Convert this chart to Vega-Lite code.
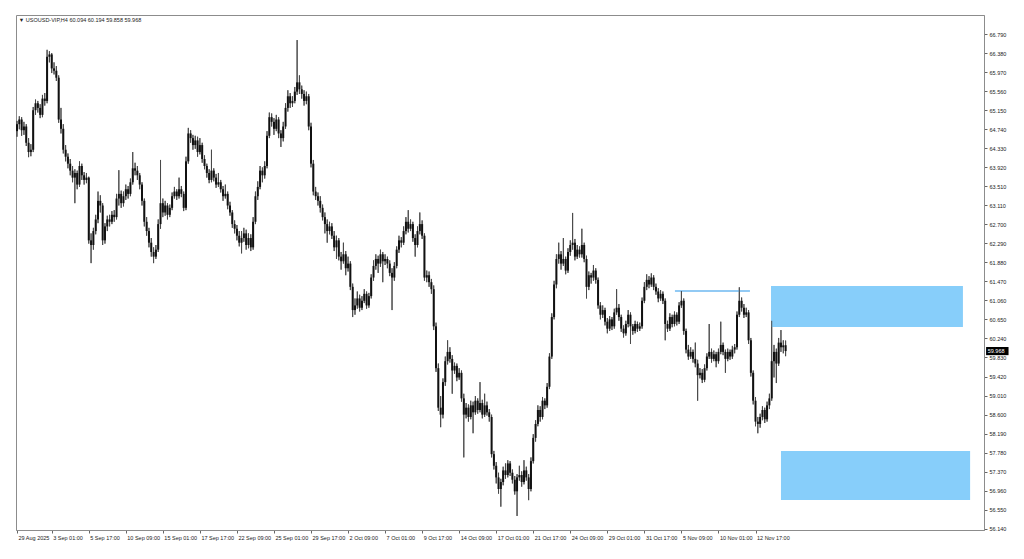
{
"$schema": "https://vega.github.io/schema/vega-lite/v6.json",
"width": 968, "height": 515,
"autosize": {"type": "none"},
"padding": {"left": 16, "top": 15, "right": 40, "bottom": 29},
"background": "white",
"config": {"view": {"stroke": "#8c8c8c", "strokeWidth": 1}, "font": "Liberation Sans"},
"datasets": {
"zones": [
{"a": 325.7, "b": 408.6, "top": 61.368, "bot": 60.486},
{"a": 330.0, "b": 411.7, "top": 57.818, "bot": 56.764}
],
"lines": [{"a": 284.2, "b": 316.6, "p": 61.26}],
"one": [{"k": 1}],
"bars": [
{"i":0,"o":64.70,"h":64.92,"l":64.58,"c":64.85},
{"i":1,"o":64.85,"h":65.02,"l":64.74,"c":64.95},
{"i":2,"o":64.95,"h":65.00,"l":64.60,"c":64.72},
{"i":3,"o":64.72,"h":64.90,"l":64.62,"c":64.80},
{"i":4,"o":64.80,"h":64.85,"l":64.38,"c":64.45},
{"i":5,"o":64.45,"h":64.55,"l":64.14,"c":64.25},
{"i":6,"o":64.25,"h":64.42,"l":64.16,"c":64.30},
{"i":7,"o":64.30,"h":65.22,"l":64.25,"c":65.15},
{"i":8,"o":65.15,"h":65.38,"l":65.05,"c":65.30},
{"i":9,"o":65.30,"h":65.35,"l":65.10,"c":65.20},
{"i":10,"o":65.20,"h":65.28,"l":64.98,"c":65.05},
{"i":11,"o":65.05,"h":65.48,"l":65.00,"c":65.40},
{"i":12,"o":65.40,"h":65.52,"l":65.25,"c":65.35},
{"i":13,"o":65.35,"h":66.45,"l":65.30,"c":66.30},
{"i":14,"o":66.30,"h":66.42,"l":66.18,"c":66.35},
{"i":15,"o":66.35,"h":66.38,"l":65.95,"c":66.05},
{"i":16,"o":66.05,"h":66.18,"l":65.92,"c":66.00},
{"i":17,"o":66.00,"h":66.10,"l":65.78,"c":65.85},
{"i":18,"o":65.85,"h":65.90,"l":64.88,"c":64.95},
{"i":19,"o":64.95,"h":65.20,"l":64.65,"c":64.75},
{"i":20,"o":64.75,"h":64.85,"l":64.22,"c":64.30},
{"i":21,"o":64.30,"h":64.40,"l":64.05,"c":64.15},
{"i":22,"o":64.15,"h":64.22,"l":63.90,"c":64.00},
{"i":23,"o":64.00,"h":64.10,"l":63.75,"c":63.85},
{"i":24,"o":63.85,"h":63.95,"l":63.60,"c":63.70},
{"i":25,"o":63.70,"h":63.88,"l":63.15,"c":63.80},
{"i":26,"o":63.80,"h":63.85,"l":63.45,"c":63.55},
{"i":27,"o":63.55,"h":64.05,"l":63.50,"c":63.95},
{"i":28,"o":63.95,"h":64.00,"l":63.65,"c":63.75},
{"i":29,"o":63.75,"h":63.82,"l":63.55,"c":63.65},
{"i":30,"o":63.65,"h":63.80,"l":63.58,"c":63.70},
{"i":31,"o":63.70,"h":63.72,"l":62.28,"c":62.35},
{"i":32,"o":62.35,"h":62.50,"l":61.86,"c":62.25},
{"i":33,"o":62.25,"h":62.62,"l":62.15,"c":62.55},
{"i":34,"o":62.55,"h":62.90,"l":62.48,"c":62.80},
{"i":35,"o":62.80,"h":63.40,"l":62.72,"c":63.20},
{"i":36,"o":63.20,"h":63.32,"l":62.95,"c":63.10},
{"i":37,"o":63.10,"h":63.15,"l":62.25,"c":62.35},
{"i":38,"o":62.35,"h":62.72,"l":62.28,"c":62.65},
{"i":39,"o":62.65,"h":62.88,"l":62.55,"c":62.80},
{"i":40,"o":62.80,"h":62.90,"l":62.65,"c":62.75},
{"i":41,"o":62.75,"h":62.98,"l":62.70,"c":62.90},
{"i":42,"o":62.90,"h":63.00,"l":62.75,"c":62.85},
{"i":43,"o":62.85,"h":63.35,"l":62.80,"c":63.25},
{"i":44,"o":63.25,"h":63.86,"l":63.10,"c":63.35},
{"i":45,"o":63.35,"h":63.42,"l":63.05,"c":63.15},
{"i":46,"o":63.15,"h":63.40,"l":63.08,"c":63.30},
{"i":47,"o":63.30,"h":63.55,"l":63.22,"c":63.45},
{"i":48,"o":63.45,"h":63.52,"l":63.25,"c":63.35},
{"i":49,"o":63.35,"h":63.68,"l":63.30,"c":63.60},
{"i":50,"o":63.60,"h":64.25,"l":63.55,"c":63.90},
{"i":51,"o":63.90,"h":64.02,"l":63.75,"c":63.85},
{"i":52,"o":63.85,"h":63.95,"l":63.65,"c":63.75},
{"i":53,"o":63.75,"h":63.80,"l":63.45,"c":63.55},
{"i":54,"o":63.55,"h":63.60,"l":63.10,"c":63.20},
{"i":55,"o":63.20,"h":63.25,"l":62.65,"c":62.75},
{"i":56,"o":62.75,"h":62.85,"l":62.45,"c":62.55},
{"i":57,"o":62.55,"h":62.62,"l":62.20,"c":62.30},
{"i":58,"o":62.30,"h":62.40,"l":62.00,"c":62.10},
{"i":59,"o":62.10,"h":62.20,"l":61.86,"c":62.00},
{"i":60,"o":62.00,"h":62.25,"l":61.95,"c":62.15},
{"i":61,"o":62.15,"h":62.80,"l":62.10,"c":62.70},
{"i":62,"o":62.70,"h":64.08,"l":62.60,"c":63.15},
{"i":63,"o":63.15,"h":63.25,"l":62.85,"c":62.95},
{"i":64,"o":62.95,"h":63.20,"l":62.88,"c":63.10},
{"i":65,"o":63.10,"h":63.15,"l":62.80,"c":62.90},
{"i":66,"o":62.90,"h":63.12,"l":62.85,"c":63.05},
{"i":67,"o":63.05,"h":63.38,"l":63.00,"c":63.30},
{"i":68,"o":63.30,"h":63.50,"l":63.25,"c":63.40},
{"i":69,"o":63.40,"h":63.45,"l":63.22,"c":63.30},
{"i":70,"o":63.30,"h":63.70,"l":63.25,"c":63.45},
{"i":71,"o":63.45,"h":63.52,"l":63.28,"c":63.35},
{"i":72,"o":63.35,"h":63.40,"l":62.98,"c":63.05},
{"i":73,"o":63.05,"h":64.15,"l":63.00,"c":64.05},
{"i":74,"o":64.05,"h":64.77,"l":64.00,"c":64.65},
{"i":75,"o":64.65,"h":64.72,"l":64.45,"c":64.55},
{"i":76,"o":64.55,"h":64.62,"l":64.30,"c":64.40},
{"i":77,"o":64.40,"h":64.60,"l":64.32,"c":64.50},
{"i":78,"o":64.50,"h":64.58,"l":64.15,"c":64.25},
{"i":79,"o":64.25,"h":64.55,"l":64.20,"c":64.40},
{"i":80,"o":64.40,"h":64.45,"l":64.02,"c":64.10},
{"i":81,"o":64.10,"h":64.18,"l":63.88,"c":63.95},
{"i":82,"o":63.95,"h":64.00,"l":63.70,"c":63.80},
{"i":83,"o":63.80,"h":63.88,"l":63.58,"c":63.65},
{"i":84,"o":63.65,"h":64.30,"l":63.60,"c":63.85},
{"i":85,"o":63.85,"h":63.90,"l":63.62,"c":63.70},
{"i":86,"o":63.70,"h":63.78,"l":63.48,"c":63.55},
{"i":87,"o":63.55,"h":63.80,"l":63.50,"c":63.60},
{"i":88,"o":63.60,"h":63.65,"l":63.38,"c":63.45},
{"i":89,"o":63.45,"h":63.52,"l":63.20,"c":63.30},
{"i":90,"o":63.30,"h":63.55,"l":63.25,"c":63.35},
{"i":91,"o":63.35,"h":63.40,"l":63.02,"c":63.10},
{"i":92,"o":63.10,"h":63.18,"l":62.88,"c":62.95},
{"i":93,"o":62.95,"h":63.00,"l":62.62,"c":62.70},
{"i":94,"o":62.70,"h":62.78,"l":62.50,"c":62.60},
{"i":95,"o":62.60,"h":62.68,"l":62.35,"c":62.45},
{"i":96,"o":62.45,"h":62.55,"l":62.22,"c":62.30},
{"i":97,"o":62.30,"h":62.55,"l":62.07,"c":62.40},
{"i":98,"o":62.40,"h":62.62,"l":62.32,"c":62.50},
{"i":99,"o":62.50,"h":62.58,"l":62.15,"c":62.25},
{"i":100,"o":62.25,"h":62.50,"l":62.18,"c":62.40},
{"i":101,"o":62.40,"h":62.48,"l":62.12,"c":62.20},
{"i":102,"o":62.20,"h":62.85,"l":62.15,"c":62.75},
{"i":103,"o":62.75,"h":63.40,"l":62.70,"c":63.30},
{"i":104,"o":63.30,"h":63.62,"l":63.22,"c":63.50},
{"i":105,"o":63.50,"h":63.95,"l":63.45,"c":63.85},
{"i":106,"o":63.85,"h":63.92,"l":63.60,"c":63.75},
{"i":107,"o":63.75,"h":64.05,"l":63.68,"c":63.95},
{"i":108,"o":63.95,"h":64.70,"l":63.90,"c":64.60},
{"i":109,"o":64.60,"h":65.10,"l":64.55,"c":65.00},
{"i":110,"o":65.00,"h":65.08,"l":64.80,"c":64.90},
{"i":111,"o":64.90,"h":64.98,"l":64.62,"c":64.75},
{"i":112,"o":64.75,"h":65.05,"l":64.70,"c":64.95},
{"i":113,"o":64.95,"h":65.00,"l":64.55,"c":64.65},
{"i":114,"o":64.65,"h":64.72,"l":64.36,"c":64.55},
{"i":115,"o":64.55,"h":64.90,"l":64.48,"c":64.80},
{"i":116,"o":64.80,"h":65.30,"l":64.75,"c":65.20},
{"i":117,"o":65.20,"h":65.58,"l":65.12,"c":65.45},
{"i":118,"o":65.45,"h":65.52,"l":65.20,"c":65.30},
{"i":119,"o":65.30,"h":65.45,"l":65.22,"c":65.35},
{"i":120,"o":65.35,"h":65.65,"l":65.30,"c":65.55},
{"i":121,"o":65.55,"h":66.66,"l":65.48,"c":65.75},
{"i":122,"o":65.75,"h":65.90,"l":65.50,"c":65.60},
{"i":123,"o":65.60,"h":65.68,"l":65.40,"c":65.50},
{"i":124,"o":65.50,"h":65.58,"l":65.25,"c":65.35},
{"i":125,"o":65.35,"h":65.55,"l":65.28,"c":65.45},
{"i":126,"o":65.45,"h":65.50,"l":64.72,"c":64.80},
{"i":127,"o":64.80,"h":64.88,"l":63.92,"c":64.00},
{"i":128,"o":64.00,"h":64.08,"l":63.32,"c":63.40},
{"i":129,"o":63.40,"h":63.50,"l":63.22,"c":63.30},
{"i":130,"o":63.30,"h":63.38,"l":63.10,"c":63.20},
{"i":131,"o":63.20,"h":63.30,"l":62.95,"c":63.05},
{"i":132,"o":63.05,"h":63.12,"l":62.78,"c":62.85},
{"i":133,"o":62.85,"h":62.95,"l":62.50,"c":62.70},
{"i":134,"o":62.70,"h":62.80,"l":62.30,"c":62.55},
{"i":135,"o":62.55,"h":62.75,"l":62.48,"c":62.65},
{"i":136,"o":62.65,"h":62.72,"l":62.38,"c":62.45},
{"i":137,"o":62.45,"h":62.55,"l":62.12,"c":62.20},
{"i":138,"o":62.20,"h":62.45,"l":61.95,"c":62.35},
{"i":139,"o":62.35,"h":62.40,"l":61.92,"c":62.00},
{"i":140,"o":62.00,"h":62.10,"l":61.72,"c":61.90},
{"i":141,"o":61.90,"h":62.30,"l":61.85,"c":62.05},
{"i":142,"o":62.05,"h":62.12,"l":61.60,"c":61.75},
{"i":143,"o":61.75,"h":62.00,"l":61.68,"c":61.85},
{"i":144,"o":61.85,"h":61.90,"l":61.28,"c":61.35},
{"i":145,"o":61.35,"h":61.42,"l":60.70,"c":60.85},
{"i":146,"o":60.85,"h":61.10,"l":60.75,"c":60.95},
{"i":147,"o":60.95,"h":61.25,"l":60.88,"c":61.10},
{"i":148,"o":61.10,"h":61.18,"l":60.82,"c":60.90},
{"i":149,"o":60.90,"h":61.15,"l":60.85,"c":61.05},
{"i":150,"o":61.05,"h":61.30,"l":61.00,"c":61.20},
{"i":151,"o":61.20,"h":61.25,"l":60.88,"c":60.95},
{"i":152,"o":60.95,"h":61.22,"l":60.90,"c":61.15},
{"i":153,"o":61.15,"h":61.62,"l":61.10,"c":61.55},
{"i":154,"o":61.55,"h":61.92,"l":61.48,"c":61.80},
{"i":155,"o":61.80,"h":62.05,"l":61.72,"c":61.95},
{"i":156,"o":61.95,"h":62.02,"l":61.65,"c":61.85},
{"i":157,"o":61.85,"h":62.15,"l":61.78,"c":62.05},
{"i":158,"o":62.05,"h":62.10,"l":61.45,"c":61.90},
{"i":159,"o":61.90,"h":62.05,"l":61.82,"c":61.95},
{"i":160,"o":61.95,"h":62.00,"l":61.75,"c":61.85},
{"i":161,"o":61.85,"h":61.92,"l":61.58,"c":61.65},
{"i":162,"o":61.65,"h":61.75,"l":60.85,"c":61.55},
{"i":163,"o":61.55,"h":61.88,"l":61.48,"c":61.80},
{"i":164,"o":61.80,"h":62.22,"l":61.75,"c":62.15},
{"i":165,"o":62.15,"h":62.45,"l":62.08,"c":62.35},
{"i":166,"o":62.35,"h":62.42,"l":62.20,"c":62.30},
{"i":167,"o":62.30,"h":62.65,"l":62.25,"c":62.55},
{"i":168,"o":62.55,"h":62.85,"l":62.48,"c":62.75},
{"i":169,"o":62.75,"h":63.00,"l":62.52,"c":62.60},
{"i":170,"o":62.60,"h":62.80,"l":62.55,"c":62.70},
{"i":171,"o":62.70,"h":62.75,"l":62.32,"c":62.40},
{"i":172,"o":62.40,"h":62.48,"l":62.00,"c":62.25},
{"i":173,"o":62.25,"h":62.65,"l":62.20,"c":62.55},
{"i":174,"o":62.55,"h":62.95,"l":62.48,"c":62.70},
{"i":175,"o":62.70,"h":62.78,"l":62.38,"c":62.45},
{"i":176,"o":62.45,"h":62.50,"l":61.48,"c":61.55},
{"i":177,"o":61.55,"h":61.70,"l":61.45,"c":61.60},
{"i":178,"o":61.60,"h":61.68,"l":61.35,"c":61.45},
{"i":179,"o":61.45,"h":61.52,"l":61.20,"c":61.30},
{"i":180,"o":61.30,"h":61.38,"l":60.42,"c":60.50},
{"i":181,"o":60.50,"h":60.58,"l":59.52,"c":59.60},
{"i":182,"o":59.60,"h":59.70,"l":58.68,"c":58.75},
{"i":183,"o":58.75,"h":59.00,"l":58.33,"c":58.60},
{"i":184,"o":58.60,"h":59.38,"l":58.52,"c":59.30},
{"i":185,"o":59.30,"h":59.85,"l":59.22,"c":59.75},
{"i":186,"o":59.75,"h":60.20,"l":59.68,"c":59.95},
{"i":187,"o":59.95,"h":60.05,"l":59.72,"c":59.80},
{"i":188,"o":59.80,"h":59.88,"l":59.05,"c":59.55},
{"i":189,"o":59.55,"h":59.72,"l":59.48,"c":59.65},
{"i":190,"o":59.65,"h":59.70,"l":59.32,"c":59.40},
{"i":191,"o":59.40,"h":59.60,"l":59.35,"c":59.50},
{"i":192,"o":59.50,"h":59.55,"l":58.88,"c":58.95},
{"i":193,"o":58.95,"h":59.05,"l":57.68,"c":58.60},
{"i":194,"o":58.60,"h":58.85,"l":58.52,"c":58.75},
{"i":195,"o":58.75,"h":58.82,"l":58.45,"c":58.55},
{"i":196,"o":58.55,"h":58.90,"l":58.50,"c":58.80},
{"i":197,"o":58.80,"h":58.88,"l":58.20,"c":58.65},
{"i":198,"o":58.65,"h":59.00,"l":58.60,"c":58.90},
{"i":199,"o":58.90,"h":58.95,"l":58.62,"c":58.70},
{"i":200,"o":58.70,"h":59.30,"l":58.65,"c":58.85},
{"i":201,"o":58.85,"h":58.92,"l":58.52,"c":58.60},
{"i":202,"o":58.60,"h":59.05,"l":58.55,"c":58.80},
{"i":203,"o":58.80,"h":58.88,"l":58.58,"c":58.65},
{"i":204,"o":58.65,"h":58.72,"l":58.45,"c":58.55},
{"i":205,"o":58.55,"h":58.60,"l":57.68,"c":57.75},
{"i":206,"o":57.75,"h":57.82,"l":57.42,"c":57.50},
{"i":207,"o":57.50,"h":57.58,"l":57.12,"c":57.25},
{"i":208,"o":57.25,"h":57.35,"l":56.90,"c":57.00},
{"i":209,"o":57.00,"h":57.22,"l":56.62,"c":57.15},
{"i":210,"o":57.15,"h":57.48,"l":57.08,"c":57.40},
{"i":211,"o":57.40,"h":57.55,"l":57.22,"c":57.30},
{"i":212,"o":57.30,"h":57.62,"l":57.25,"c":57.55},
{"i":213,"o":57.55,"h":57.60,"l":57.28,"c":57.35},
{"i":214,"o":57.35,"h":57.42,"l":57.12,"c":57.20},
{"i":215,"o":57.20,"h":57.28,"l":56.88,"c":56.95},
{"i":216,"o":56.95,"h":57.32,"l":56.42,"c":57.25},
{"i":217,"o":57.25,"h":57.50,"l":57.18,"c":57.30},
{"i":218,"o":57.30,"h":57.38,"l":57.05,"c":57.15},
{"i":219,"o":57.15,"h":57.62,"l":57.10,"c":57.40},
{"i":220,"o":57.40,"h":57.48,"l":57.18,"c":57.25},
{"i":221,"o":57.25,"h":57.32,"l":56.76,"c":57.00},
{"i":222,"o":57.00,"h":57.68,"l":56.95,"c":57.60},
{"i":223,"o":57.60,"h":58.18,"l":57.55,"c":58.10},
{"i":224,"o":58.10,"h":58.48,"l":58.02,"c":58.40},
{"i":225,"o":58.40,"h":58.80,"l":58.35,"c":58.70},
{"i":226,"o":58.70,"h":58.78,"l":58.45,"c":58.55},
{"i":227,"o":58.55,"h":58.98,"l":58.50,"c":58.90},
{"i":228,"o":58.90,"h":58.95,"l":58.72,"c":58.80},
{"i":229,"o":58.80,"h":59.28,"l":58.75,"c":59.20},
{"i":230,"o":59.20,"h":59.92,"l":59.15,"c":59.85},
{"i":231,"o":59.85,"h":60.78,"l":59.80,"c":60.70},
{"i":232,"o":60.70,"h":61.48,"l":60.65,"c":61.40},
{"i":233,"o":61.40,"h":62.05,"l":61.32,"c":61.95},
{"i":234,"o":61.95,"h":62.30,"l":61.85,"c":62.05},
{"i":235,"o":62.05,"h":62.12,"l":61.72,"c":61.85},
{"i":236,"o":61.85,"h":62.40,"l":61.80,"c":61.95},
{"i":237,"o":61.95,"h":62.00,"l":61.62,"c":61.70},
{"i":238,"o":61.70,"h":62.18,"l":61.65,"c":62.10},
{"i":239,"o":62.10,"h":62.35,"l":62.02,"c":62.25},
{"i":240,"o":62.25,"h":62.94,"l":62.15,"c":62.30},
{"i":241,"o":62.30,"h":62.38,"l":61.92,"c":62.00},
{"i":242,"o":62.00,"h":62.25,"l":61.95,"c":62.15},
{"i":243,"o":62.15,"h":62.22,"l":61.98,"c":62.05},
{"i":244,"o":62.05,"h":62.60,"l":61.98,"c":62.25},
{"i":245,"o":62.25,"h":62.30,"l":61.88,"c":61.95},
{"i":246,"o":61.95,"h":62.02,"l":61.10,"c":61.35},
{"i":247,"o":61.35,"h":61.68,"l":61.28,"c":61.60},
{"i":248,"o":61.60,"h":61.65,"l":61.42,"c":61.55},
{"i":249,"o":61.55,"h":61.82,"l":61.48,"c":61.70},
{"i":250,"o":61.70,"h":61.75,"l":61.42,"c":61.50},
{"i":251,"o":61.50,"h":61.55,"l":60.88,"c":60.95},
{"i":252,"o":60.95,"h":61.02,"l":60.65,"c":60.75},
{"i":253,"o":60.75,"h":60.95,"l":60.68,"c":60.85},
{"i":254,"o":60.85,"h":60.90,"l":60.52,"c":60.60},
{"i":255,"o":60.60,"h":60.68,"l":60.35,"c":60.45},
{"i":256,"o":60.45,"h":60.72,"l":60.40,"c":60.65},
{"i":257,"o":60.65,"h":60.70,"l":60.42,"c":60.50},
{"i":258,"o":60.50,"h":60.88,"l":60.45,"c":60.80},
{"i":259,"o":60.80,"h":61.30,"l":60.75,"c":60.90},
{"i":260,"o":60.90,"h":60.98,"l":60.62,"c":60.70},
{"i":261,"o":60.70,"h":60.75,"l":60.38,"c":60.45},
{"i":262,"o":60.45,"h":60.52,"l":60.26,"c":60.35},
{"i":263,"o":60.35,"h":60.62,"l":60.30,"c":60.55},
{"i":264,"o":60.55,"h":60.85,"l":60.48,"c":60.75},
{"i":265,"o":60.75,"h":60.80,"l":60.12,"c":60.50},
{"i":266,"o":60.50,"h":60.55,"l":60.32,"c":60.40},
{"i":267,"o":60.40,"h":60.62,"l":60.35,"c":60.55},
{"i":268,"o":60.55,"h":60.60,"l":60.38,"c":60.45},
{"i":269,"o":60.45,"h":60.58,"l":60.40,"c":60.50},
{"i":270,"o":60.50,"h":61.12,"l":60.45,"c":61.05},
{"i":271,"o":61.05,"h":61.45,"l":61.00,"c":61.35},
{"i":272,"o":61.35,"h":61.62,"l":61.28,"c":61.50},
{"i":273,"o":61.50,"h":61.58,"l":61.32,"c":61.40},
{"i":274,"o":61.40,"h":61.64,"l":61.35,"c":61.55},
{"i":275,"o":61.55,"h":61.60,"l":61.28,"c":61.35},
{"i":276,"o":61.35,"h":61.42,"l":61.18,"c":61.25},
{"i":277,"o":61.25,"h":61.32,"l":61.02,"c":61.10},
{"i":278,"o":61.10,"h":61.28,"l":61.05,"c":61.20},
{"i":279,"o":61.20,"h":61.25,"l":60.98,"c":61.05},
{"i":280,"o":61.05,"h":61.10,"l":60.20,"c":60.55},
{"i":281,"o":60.55,"h":60.62,"l":60.38,"c":60.45},
{"i":282,"o":60.45,"h":60.78,"l":60.40,"c":60.70},
{"i":283,"o":60.70,"h":60.75,"l":60.48,"c":60.55},
{"i":284,"o":60.55,"h":60.82,"l":60.50,"c":60.75},
{"i":285,"o":60.75,"h":60.80,"l":60.52,"c":60.60},
{"i":286,"o":60.60,"h":61.02,"l":60.55,"c":60.95},
{"i":287,"o":60.95,"h":61.26,"l":60.90,"c":61.05},
{"i":288,"o":61.05,"h":61.10,"l":60.32,"c":60.40},
{"i":289,"o":60.40,"h":60.45,"l":59.92,"c":60.00},
{"i":290,"o":60.00,"h":60.10,"l":59.78,"c":59.85},
{"i":291,"o":59.85,"h":60.05,"l":59.80,"c":59.95},
{"i":292,"o":59.95,"h":60.00,"l":59.72,"c":59.80},
{"i":293,"o":59.80,"h":60.15,"l":59.62,"c":59.70},
{"i":294,"o":59.70,"h":59.78,"l":58.90,"c":59.45},
{"i":295,"o":59.45,"h":59.60,"l":59.38,"c":59.50},
{"i":296,"o":59.50,"h":59.58,"l":59.28,"c":59.35},
{"i":297,"o":59.35,"h":59.68,"l":59.30,"c":59.60},
{"i":298,"o":59.60,"h":59.92,"l":59.55,"c":59.85},
{"i":299,"o":59.85,"h":60.55,"l":59.80,"c":59.95},
{"i":300,"o":59.95,"h":60.02,"l":59.72,"c":59.80},
{"i":301,"o":59.80,"h":59.98,"l":59.75,"c":59.90},
{"i":302,"o":59.90,"h":59.95,"l":59.62,"c":59.75},
{"i":303,"o":59.75,"h":60.02,"l":59.70,"c":59.95},
{"i":304,"o":59.95,"h":60.60,"l":59.90,"c":60.10},
{"i":305,"o":60.10,"h":60.15,"l":59.88,"c":59.95},
{"i":306,"o":59.95,"h":60.00,"l":59.50,"c":59.80},
{"i":307,"o":59.80,"h":60.02,"l":59.75,"c":59.95},
{"i":308,"o":59.95,"h":60.00,"l":59.78,"c":59.85},
{"i":309,"o":59.85,"h":60.08,"l":59.80,"c":60.00},
{"i":310,"o":60.00,"h":60.12,"l":59.92,"c":60.05},
{"i":311,"o":60.05,"h":60.82,"l":60.00,"c":60.75},
{"i":312,"o":60.75,"h":61.34,"l":60.70,"c":61.05},
{"i":313,"o":61.05,"h":61.12,"l":60.82,"c":60.90},
{"i":314,"o":60.90,"h":60.98,"l":60.68,"c":60.75},
{"i":315,"o":60.75,"h":60.90,"l":60.70,"c":60.80},
{"i":316,"o":60.80,"h":60.85,"l":60.12,"c":60.20},
{"i":317,"o":60.20,"h":60.25,"l":59.42,"c":59.50},
{"i":318,"o":59.50,"h":59.55,"l":58.82,"c":58.90},
{"i":319,"o":58.90,"h":58.98,"l":58.35,"c":58.45},
{"i":320,"o":58.45,"h":58.55,"l":58.20,"c":58.40},
{"i":321,"o":58.40,"h":58.62,"l":58.32,"c":58.55},
{"i":322,"o":58.55,"h":58.78,"l":58.48,"c":58.70},
{"i":323,"o":58.70,"h":58.75,"l":58.42,"c":58.50},
{"i":324,"o":58.50,"h":58.88,"l":58.45,"c":58.80},
{"i":325,"o":58.80,"h":59.05,"l":58.72,"c":58.95},
{"i":326,"o":58.95,"h":60.62,"l":58.90,"c":59.75},
{"i":327,"o":59.75,"h":60.10,"l":59.40,"c":59.95},
{"i":328,"o":59.95,"h":60.02,"l":59.28,"c":59.70},
{"i":329,"o":59.70,"h":60.25,"l":59.65,"c":60.15},
{"i":330,"o":60.15,"h":60.42,"l":59.95,"c":60.05},
{"i":331,"o":60.05,"h":60.20,"l":59.92,"c":60.09},
{"i":332,"o":60.094,"h":60.194,"l":59.858,"c":59.968}
]
},
"layer": [
{
"data": {"name": "bars"},
"mark": {"type": "rule", "color": "#4a4a4a", "strokeWidth": 1},
"encoding": {
"x": {"field": "i", "type": "quantitative",
  "scale": {"domain": [-0.43, 417.7], "nice": false, "zero": false},
  "axis": {"title": null, "grid": false, "tickCount": 60, "values": [0,15,31,47,63,79,95,111,127,143,159,175,191,207,223,239,255,271,287,303,319],
    "labelExpr": "['29 Aug 2025','3 Sep 01:00','5 Sep 17:00','10 Sep 09:00','15 Sep 01:00','17 Sep 17:00','22 Sep 09:00','25 Sep 01:00','29 Sep 17:00','2 Oct 09:00','7 Oct 01:00','9 Oct 17:00','14 Oct 09:00','17 Oct 01:00','21 Oct 17:00','24 Oct 09:00','29 Oct 01:00','31 Oct 17:00','5 Nov 09:00','10 Nov 01:00','12 Nov 17:00'][floor((datum.value+1)/16)]",
    "labelAlign": "left", "labelOffset": 1, "labelFontSize": 5.5, "labelColor": "#222222", "labelPadding": 2,
    "labelOverlap": false, "labelFlush": false, "tickSize": 3, "tickColor": "#666666", "domainColor": "#8c8c8c"}},
"y": {"field": "l", "type": "quantitative",
  "scale": {"domain": [56.118, 67.199], "nice": false, "zero": false},
  "axis": {"title": null, "grid": false, "orient": "right", "tickCount": 60,
    "values": [66.79,66.38,65.97,65.56,65.15,64.74,64.33,63.92,63.51,63.11,62.70,62.29,61.88,61.47,61.06,60.65,60.24,59.83,59.42,59.01,58.60,58.19,57.78,57.37,56.96,56.55,56.14],
    "format": ".3f", "labelFontSize": 5.5, "labelColor": "#222222", "labelPadding": 2, "labelOverlap": false, "labelFlush": false,
    "tickSize": 3, "tickColor": "#666666", "domainColor": "#8c8c8c"}},
"y2": {"field": "h"}
}
},
{
"data": {"name": "zones"},
"mark": {"type": "rect", "color": "#87CEFA", "opacity": 1},
"encoding": {
"x": {"field": "a", "type": "quantitative"},
"x2": {"field": "b"},
"y": {"field": "top", "type": "quantitative"},
"y2": {"field": "bot"}
}
},
{
"data": {"name": "lines"},
"mark": {"type": "rule", "color": "#6EB9F0", "strokeWidth": 1.5},
"encoding": {
"x": {"field": "a", "type": "quantitative"},
"x2": {"field": "b"},
"y": {"field": "p", "type": "quantitative"}
}
},
{
"data": {"name": "bars"},
"mark": {"type": "rule", "color": "#4a4a4a", "strokeWidth": 1},
"encoding": {
"x": {"field": "i", "type": "quantitative"},
"y": {"field": "l", "type": "quantitative"},
"y2": {"field": "h"}
}
},
{
"data": {"name": "bars"},
"mark": {"type": "rule", "color": "#111111", "strokeWidth": 2},
"encoding": {
"x": {"field": "i", "type": "quantitative"},
"y": {"field": "o", "type": "quantitative"},
"y2": {"field": "c"}
}
},
{
"data": {"name": "one"},
"mark": {"type": "text", "text": "\u25bc USOUSD-VIP,H4  60.094 60.194 59.858 59.968", "align": "left", "baseline": "middle", "fontSize": 5.5, "font": "Liberation Sans, DejaVu Sans", "color": "#222222"},
"encoding": {
"x": {"datum": 0.8, "type": "quantitative"},
"y": {"datum": 67.09, "type": "quantitative"}
}
},
{
"data": {"name": "one"},
"mark": {"type": "rect", "color": "#000000"},
"encoding": {
"x": {"datum": 418.6, "type": "quantitative"},
"x2": {"datum": 428.3},
"y": {"datum": 60.055, "type": "quantitative"},
"y2": {"datum": 59.88}
}
},
{
"data": {"name": "one"},
"mark": {"type": "text", "text": "59.968", "align": "left", "baseline": "middle", "fontSize": 5.5, "color": "#ffffff"},
"encoding": {
"x": {"datum": 419.3, "type": "quantitative"},
"y": {"datum": 59.968, "type": "quantitative"}
}
}
]
}
